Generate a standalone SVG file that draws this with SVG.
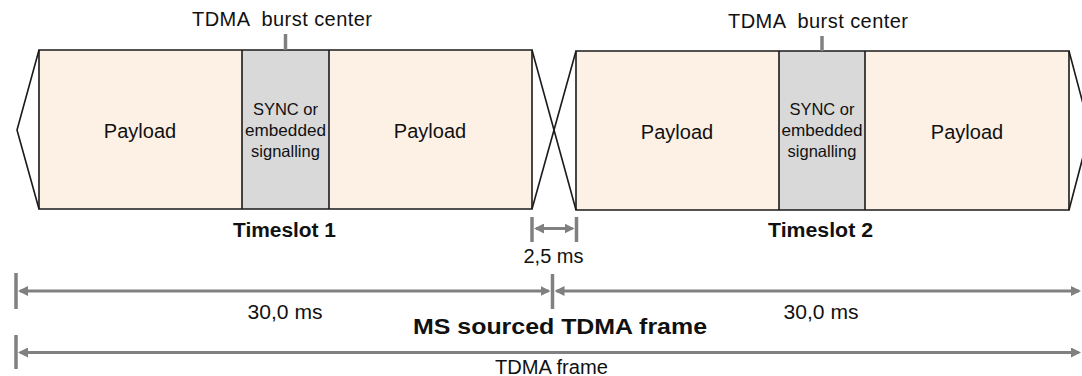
<svg xmlns="http://www.w3.org/2000/svg" width="1082" height="376" viewBox="0 0 1082 376">
  <style>
    .payload { fill: #FDF0E5; stroke: none; }
    .sync { fill: #D9D9D9; stroke: none; }
    .edge { fill: none; stroke: #1a1a1a; stroke-width: 1.6; stroke-linejoin: miter; }
    .dim { fill: none; stroke: #808080; stroke-width: 3; }
    .tick { fill: none; stroke: #808080; stroke-width: 3.5; }
    text { font-family: "Liberation Sans", Arial, sans-serif; fill: #111; }
    .lbl { font-size: 20px; text-anchor: middle; }
    .small { font-size: 16.5px; text-anchor: middle; }
    .bold { font-weight: bold; text-anchor: middle; }
  </style>
  <defs>
    <marker id="arr" viewBox="0 0 10 10" markerUnits="userSpaceOnUse" markerWidth="10" markerHeight="10" refX="8" refY="5" orient="auto-start-reverse">
      <path d="M0,0 L10,5 L0,10 z" fill="#808080"/>
    </marker>
  </defs>

  <!-- Timeslot 1 -->
  <g id="timeslot1">
    <rect class="payload" x="39" y="50" width="203" height="159"/>
    <rect class="sync" x="242" y="50" width="87" height="159"/>
    <rect class="payload" x="329" y="50" width="203" height="159"/>
    <path class="edge" d="M39,50 L532,50 L532,209 L39,209 Z"/>
    <path class="edge" d="M39,50 L17,130 L39,209"/>
    <line class="edge" x1="242" y1="50" x2="242" y2="209"/>
    <line class="edge" x1="329" y1="50" x2="329" y2="209"/>
    <line class="tick" x1="285.5" y1="34" x2="285.5" y2="50" stroke-width="3"/>
    <text class="lbl" x="282" y="26" xml:space="preserve" textLength="180" lengthAdjust="spacing">TDMA  burst center</text>
    <text class="lbl" x="140" y="138">Payload</text>
    <text class="small" x="285.5" y="115">SYNC or</text>
    <text class="small" x="285.5" y="136" textLength="81" lengthAdjust="spacingAndGlyphs">embedded</text>
    <text class="small" x="285.5" y="157">signalling</text>
    <text class="lbl" x="430" y="138">Payload</text>
    <text class="bold" x="284.5" y="237" font-size="19.5" textLength="103" lengthAdjust="spacingAndGlyphs">Timeslot 1</text>
  </g>

  <!-- Timeslot 2 -->
  <g id="timeslot2">
    <rect class="payload" x="576" y="51" width="203" height="159"/>
    <rect class="sync" x="779" y="51" width="86" height="159"/>
    <rect class="payload" x="865" y="51" width="204" height="159"/>
    <path class="edge" d="M576,51 L1069,51 L1069,210 L576,210 Z"/>
    <path class="edge" d="M1069,51 L1090,130 L1069,210"/>
    <line class="edge" x1="779" y1="51" x2="779" y2="210"/>
    <line class="edge" x1="865" y1="51" x2="865" y2="210"/>
    <line class="tick" x1="822" y1="36" x2="822" y2="51" stroke-width="3"/>
    <text class="lbl" x="818" y="27.5" xml:space="preserve" textLength="180" lengthAdjust="spacing">TDMA  burst center</text>
    <text class="lbl" x="677" y="139">Payload</text>
    <text class="small" x="822" y="115">SYNC or</text>
    <text class="small" x="822" y="136" textLength="81" lengthAdjust="spacingAndGlyphs">embedded</text>
    <text class="small" x="822" y="157">signalling</text>
    <text class="lbl" x="967" y="139">Payload</text>
    <text class="bold" x="820.5" y="237" font-size="19.5" textLength="105" lengthAdjust="spacingAndGlyphs">Timeslot 2</text>
  </g>

  <!-- Guard crossing between the two bursts -->
  <g id="guard">
    <line class="edge" x1="532" y1="50" x2="576" y2="210"/>
    <line class="edge" x1="576" y1="51" x2="532" y2="209"/>
  </g>

  <!-- Dimension lines -->
  <g id="connectors">
    <!-- 2,5 ms guard interval -->
    <line class="tick" x1="532" y1="217" x2="532" y2="242"/>
    <line class="tick" x1="576.5" y1="217" x2="576.5" y2="242"/>
    <line class="dim" x1="536" y1="228.5" x2="572.5" y2="228.5" marker-start="url(#arr)" marker-end="url(#arr)"/>

    <!-- 30,0 ms halves -->
    <line class="tick" x1="16" y1="273" x2="16" y2="309"/>
    <line class="tick" x1="552.5" y1="274" x2="552.5" y2="309"/>
    <line class="dim" x1="20" y1="291" x2="548.5" y2="291" marker-start="url(#arr)" marker-end="url(#arr)"/>
    <line class="dim" x1="556.5" y1="291" x2="1079" y2="291" marker-start="url(#arr)" marker-end="url(#arr)"/>

    <!-- full TDMA frame -->
    <line class="tick" x1="16" y1="335" x2="16" y2="369"/>
    <line class="dim" x1="20" y1="352.5" x2="1079" y2="352.5" marker-start="url(#arr)" marker-end="url(#arr)"/>
  </g>

  <g id="dimension-labels">
    <text class="lbl" x="553.5" y="263">2,5 ms</text>
    <text class="lbl" x="285" y="319" textLength="75" lengthAdjust="spacingAndGlyphs">30,0 ms</text>
    <text class="lbl" x="821" y="319" textLength="75" lengthAdjust="spacingAndGlyphs">30,0 ms</text>
    <text class="bold" x="560" y="333.5" font-size="22" textLength="294" lengthAdjust="spacingAndGlyphs">MS sourced TDMA frame</text>
    <text class="lbl" x="551.5" y="373.5" textLength="113" lengthAdjust="spacingAndGlyphs">TDMA frame</text>
  </g>
</svg>
